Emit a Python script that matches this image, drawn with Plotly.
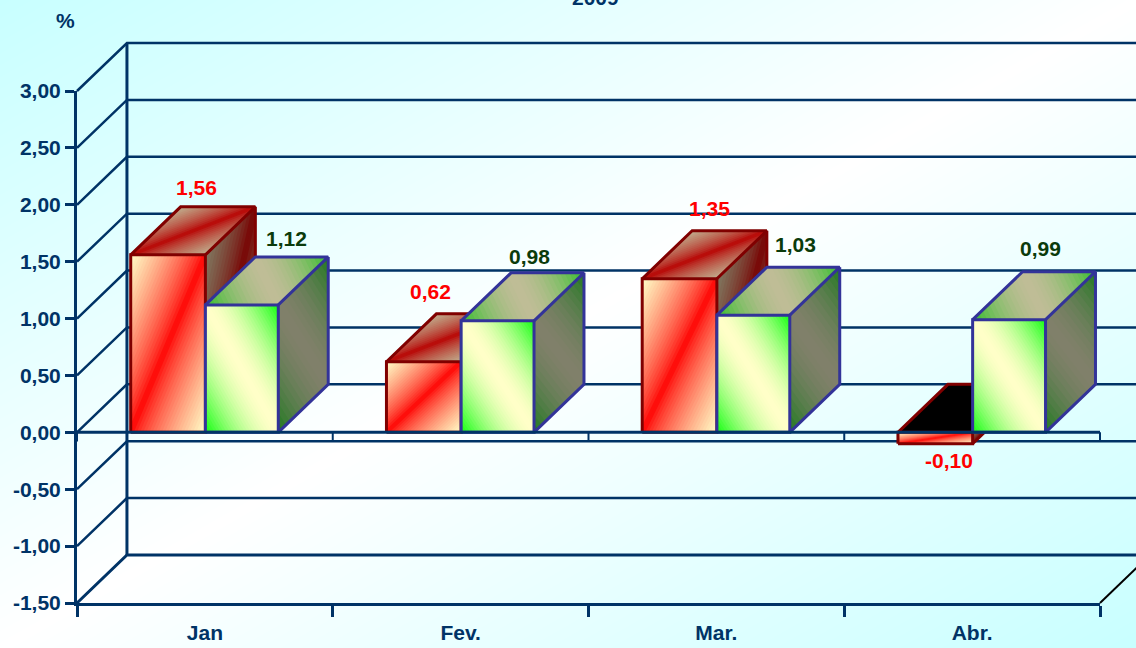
import plotly.graph_objects as go

# ---- data ----
categories = ["Jan", "Fev.", "Mar.", "Abr."]
red_values = [1.56, 0.62, 1.35, -0.10]
green_values = [1.12, 0.98, 1.03, 0.99]
y_ticks = [3.0, 2.5, 2.0, 1.5, 1.0, 0.5, 0.0, -0.5, -1.0, -1.5]
title_text = "2009"
unit_text = "%"

# ---- style / layout ----
W, H = 1136, 648
PLOT_L, PLOT_R, PLOT_T, PLOT_B = 77, 1100, 91, 603
Y_MIN, Y_MAX = -1.5, 3.0
DX = 50 / 256.0        # depth offset in category units
DY = 48 / 113.8        # depth offset in value units
RED_X = (0.21, 0.502)  # bar span within a category
GREEN_X = (0.502, 0.787)
NAVY = "#003366"
FONT = "Liberation Sans"
FONT_SIZE = 21
RED_EDGE, GREEN_EDGE = "#800000", "#333399"
GREEN_TEXT = "#0b3b0b"

# (outer colour, centre colour)
RED_STOPS = {"front": ("#ffffc8", "#ff0000"),
             "top": ("#c0b090", "#b80000"),
             "side": ("#807a62", "#780000")}
GREEN_STOPS = {"front": ("#10ff10", "#ffffc8"),
               "top": ("#34bf2c", "#bfbd96"),
               "side": ("#1f7a1f", "#80806a")}
RED_GAMMA, GREEN_GAMMA = 0.75, 1.7

# label shift in px from the bar's front-top centre
RED_SHIFT = [(28, 67), (7, 70), (30, 70), (14, -17)]
GREEN_SHIFT = [(45, 66), (32, 64), (42, 71), (31, 71)]


def rgb(h):
    return tuple(int(h[i:i + 2], 16) for i in (1, 3, 5))


def mix(stops, t, gamma):
    outer, centre = rgb(stops[0]), rgb(stops[1])
    f = abs(2 * t - 1) ** gamma
    return "rgb(%d,%d,%d)" % tuple(round(centre[i] + (outer[i] - centre[i]) * f) for i in range(3))


def clip(poly, fn, limit):
    """Keep the part of a polygon where fn >= limit."""
    out = []
    for i, p in enumerate(poly):
        q = poly[(i + 1) % len(poly)]
        a, b = limit - fn(*p), limit - fn(*q)
        if a <= 0:
            out.append(p)
        if a * b < 0:
            f = a / (a - b)
            out.append((p[0] + (q[0] - p[0]) * f, p[1] + (q[1] - p[1]) * f))
    return out


n = len(categories)
x_unit = (PLOT_R - PLOT_L) / n
y_unit = (PLOT_B - PLOT_T) / (Y_MAX - Y_MIN)
# the data axes span the whole page so the 3-D box can run past the tick axes
page_x = [-PLOT_L / x_unit, (W - PLOT_L) / x_unit]
page_y = [Y_MIN - (H - PLOT_B) / y_unit, Y_MAX + PLOT_T / y_unit]

fig = go.Figure()

# page background: diagonal cyan-white-cyan wash
fig.add_trace(go.Heatmap(x=page_x, y=page_y, z=[[0.5, 1], [0, 0.5]], zsmooth="best",
                         zmin=0, zmax=1, showscale=False, hoverinfo="skip",
                         colorscale=[[0, "#c8ffff"], [0.5, "#ffffff"], [1, "#c8ffff"]]))


def line(xs, ys, width, color=NAVY):
    fig.add_trace(go.Scatter(x=xs, y=ys, mode="lines", hoverinfo="skip",
                             line=dict(color=color, width=width)))


# back wall + side wall
for v in y_ticks:
    if v == Y_MIN:
        continue
    line([0, DX, n + DX], [v, v + DY, v + DY], 2.5)
line([0, DX, n + DX], [Y_MIN, Y_MIN + DY, Y_MIN + DY], 3)
line([DX, DX], [Y_MIN + DY, Y_MAX + DY], 3)
line([n, n + DX], [Y_MIN, Y_MIN + DY], 2, "#000000")


def face(origin, uvec, vvec, stops, flip, bands, gamma):
    """Paint one parallelogram with a symmetric diagonal gradient, overlapping each step."""
    fn = (lambda u, v: (u + 1 - v) / 2) if flip else (lambda u, v: (u + v) / 2)
    square = [(0, 0), (1, 0), (1, 1), (0, 1)]
    for k in range(bands):
        t0, t1 = k / bands, (k + 1) / bands
        poly = clip(square, fn, t0)
        if len(poly) < 3:
            continue
        xs = [origin[0] + u * uvec[0] + v * vvec[0] for u, v in poly]
        ys = [origin[1] + u * uvec[1] + v * vvec[1] for u, v in poly]
        c = mix(stops, (t0 + t1) / 2, gamma)
        fig.add_trace(go.Scatter(x=xs + xs[:1], y=ys + ys[:1], mode="none", fill="toself",
                                 fillcolor=c, hoverinfo="skip"))


def bar(i, value, span, stops, edge, flip, gamma):
    x0, x1 = i + span[0], i + span[1]
    w = x1 - x0
    top, bot = max(value, 0), min(value, 0)
    h = top - bot
    # top face
    if value >= 0:
        face((x0, top), (w, 0), (DX, DY), stops["top"], flip, 30, gamma)
    else:
        xs = [x0, x1, x1 + DX, x0 + DX, x0]
        ys = [top, top, top + DY, top + DY, top]
        fig.add_trace(go.Scatter(x=xs, y=ys, mode="none", fill="toself", fillcolor="#000000",
                                 hoverinfo="skip"))
    # side face
    face((x1, bot), (DX, DY), (0, h), stops["side"], flip, 26, gamma)
    # front face
    face((x0, bot), (w, 0), (0, h), stops["front"], flip, 48 if h > 0.3 else 24, gamma)
    # outlines
    ex = [x0, x1, x1, x0, x0, None, x0, x0 + DX, x1 + DX, x1, None,
          x1 + DX, x1 + DX, x1]
    ey = [bot, bot, top, top, bot, None, top, top + DY, top + DY, top, None,
          top + DY, bot + DY, bot]
    fig.add_trace(go.Scatter(x=ex, y=ey, mode="lines", hoverinfo="skip",
                             line=dict(color=edge, width=3)))


for i in range(n):
    bar(i, red_values[i], RED_X, RED_STOPS, RED_EDGE, True, RED_GAMMA)
    bar(i, green_values[i], GREEN_X, GREEN_STOPS, GREEN_EDGE, False, GREEN_GAMMA)

# zero plane front edge with its small ticks
for i in range(n + 1):
    line([i, i], [0, -0.08], 2)
line([0, n], [0, 0], 3)

# carrier for the tick axes
fig.add_trace(go.Scatter(x=[None], y=[None], xaxis="x2", yaxis="y2", hoverinfo="skip", mode="lines"))

# ---- text ----
annotations = []


def fmt(v):
    return ("%.2f" % v).replace(".", ",")


def add_label(i, v, span, shift, color):
    annotations.append(dict(x=i + sum(span) / 2, y=v, xref="x", yref="y", text="<b>%s</b>" % fmt(v),
                            showarrow=False, xshift=shift[0], yshift=shift[1],
                            xanchor="center", yanchor="middle",
                            font=dict(family=FONT, size=FONT_SIZE, color=color)))


for i in range(n):
    add_label(i, red_values[i], RED_X, RED_SHIFT[i], "#ff0000")
    add_label(i, green_values[i], GREEN_X, GREEN_SHIFT[i], GREEN_TEXT)

annotations.append(dict(x=595 / W, y=(H + 3) / H, xref="paper", yref="paper", text="<b>%s</b>" % title_text,
                        showarrow=False, xanchor="center", yanchor="middle",
                        font=dict(family=FONT, size=FONT_SIZE, color=NAVY)))
annotations.append(dict(x=65 / W, y=(H - 20) / H, xref="paper", yref="paper", text="<b>%s</b>" % unit_text,
                        showarrow=False, xanchor="center", yanchor="middle",
                        font=dict(family=FONT, size=FONT_SIZE, color=NAVY)))

fig.update_layout(
    width=W, height=H, autosize=False, showlegend=False,
    margin=dict(l=0, r=0, t=0, b=0, pad=0, autoexpand=False),
    paper_bgcolor="#ffffff", plot_bgcolor="rgba(0,0,0,0)",
    annotations=annotations,
    xaxis=dict(domain=[0, 1], range=page_x, visible=False, fixedrange=True),
    yaxis=dict(domain=[0, 1], range=page_y, visible=False, fixedrange=True),
    xaxis2=dict(domain=[PLOT_L / W, PLOT_R / W], range=[0, n], anchor="y2", showgrid=False, zeroline=False,
                showline=True, linecolor=NAVY, linewidth=3,
                tickmode="array", tickvals=[i + 0.5 for i in range(n)],
                ticktext=["<b>%s</b>" % c for c in categories],
                ticks="outside", ticklen=11, tickcolor="rgba(0,0,0,0)", tickwidth=1,
                ticklabelstandoff=-2,
                tickfont=dict(family=FONT, size=FONT_SIZE, color=NAVY),
                minor=dict(tickmode="array", tickvals=list(range(n + 1)), ticks="outside",
                           ticklen=11, tickcolor=NAVY, tickwidth=2.5, showgrid=False),
                fixedrange=True),
    yaxis2=dict(domain=[(H - PLOT_B) / H, (H - PLOT_T) / H], range=[Y_MIN, Y_MAX], anchor="x2",
                showgrid=False, zeroline=False, showline=True, linecolor=NAVY, linewidth=3,
                tickmode="array", tickvals=y_ticks, ticktext=["<b>%s</b>" % fmt(v) for v in y_ticks],
                ticks="outside", ticklen=9, tickcolor=NAVY, tickwidth=3,
                tickfont=dict(family=FONT, size=FONT_SIZE, color=NAVY), fixedrange=True),
)

fig.write_html("out.html", config=dict(displayModeBar=False),
               post_script="document.body.style.margin='0';document.documentElement.style.overflow='hidden';")
